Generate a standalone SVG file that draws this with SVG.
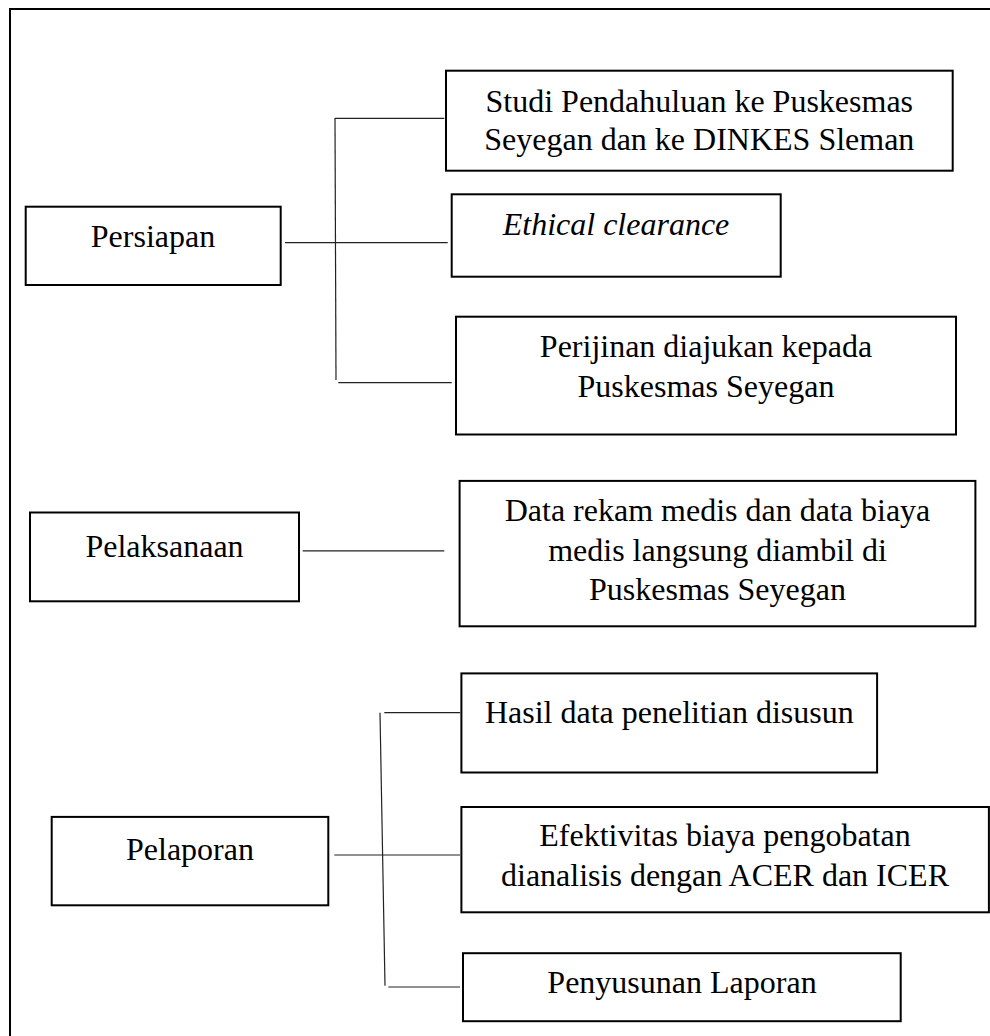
<svg xmlns="http://www.w3.org/2000/svg" width="990" height="1036" viewBox="0 0 990 1036">
<style>
.box{fill:#fff;stroke:#000;stroke-width:2}
.t{font-family:"Liberation Serif","Times New Roman",serif;font-size:32px;fill:#000;text-anchor:middle}
.i{font-style:italic}
.c{stroke:#222;stroke-width:1.2;fill:none}
</style>
<rect width="990" height="1036" fill="#fff"/>
<path d="M10,1040 V9 H994" fill="none" stroke="#000" stroke-width="2"/>
<g id="connectors">
<line class="c" x1="285" y1="242.7" x2="447.7" y2="242.7"/>
<line class="c" x1="335" y1="118" x2="336" y2="380"/>
<line class="c" x1="335" y1="118.3" x2="444.3" y2="118.3"/>
<line class="c" x1="338.3" y1="382.7" x2="451.7" y2="382.7"/>
<line class="c" x1="302.7" y1="550.8" x2="444.3" y2="550.8"/>
<line class="c" x1="334.3" y1="855" x2="460" y2="855"/>
<line class="c" x1="380" y1="712.7" x2="385" y2="985.8"/>
<line class="c" x1="384.3" y1="712.7" x2="460" y2="712.7"/>
<line class="c" x1="388.3" y1="987" x2="460" y2="987"/>
</g>
<g id="persiapan">
<rect class="box" x="25.7" y="206.7" width="255" height="78.3"/>
<text class="t" x="153" y="247">Persiapan</text>
</g>
<g id="studi">
<rect class="box" x="446" y="70.7" width="506.7" height="100"/>
<text class="t" x="699.3" y="111.5">Studi Pendahuluan ke Puskesmas</text>
<text class="t" x="699.3" y="150">Seyegan dan ke DINKES Sleman</text>
</g>
<g id="ethical">
<rect class="box" x="451.7" y="194.3" width="329" height="82.4"/>
<text class="t i" x="616" y="235">Ethical clearance</text>
</g>
<g id="perijinan">
<rect class="box" x="456" y="316.7" width="500" height="117.8"/>
<text class="t" x="706" y="357">Perijinan diajukan kepada</text>
<text class="t" x="706" y="397">Puskesmas Seyegan</text>
</g>
<g id="pelaksanaan">
<rect class="box" x="30" y="512.5" width="269" height="88.8"/>
<text class="t" x="164.5" y="557">Pelaksanaan</text>
</g>
<g id="data">
<rect class="box" x="459.6" y="480.9" width="515.8" height="145.4"/>
<text class="t" x="717.5" y="521.4">Data rekam medis dan data biaya</text>
<text class="t" x="717.5" y="560.7">medis langsung diambil di</text>
<text class="t" x="717.5" y="600">Puskesmas Seyegan</text>
</g>
<g id="pelaporan">
<rect class="box" x="51.7" y="816.9" width="276.6" height="88.4"/>
<text class="t" x="190" y="860">Pelaporan</text>
</g>
<g id="hasil">
<rect class="box" x="461.4" y="673.4" width="415.7" height="99.1"/>
<text class="t" x="669.3" y="722.6">Hasil data penelitian disusun</text>
</g>
<g id="efektivitas">
<rect class="box" x="461.4" y="807" width="527.5" height="105.3"/>
<text class="t" x="725" y="846.3">Efektivitas biaya pengobatan</text>
<text class="t" x="725" y="886.4">dianalisis dengan ACER dan ICER</text>
</g>
<g id="penyusunan">
<rect class="box" x="463" y="953.2" width="437.7" height="68"/>
<text class="t" x="682" y="992.5">Penyusunan Laporan</text>
</g>
</svg>
